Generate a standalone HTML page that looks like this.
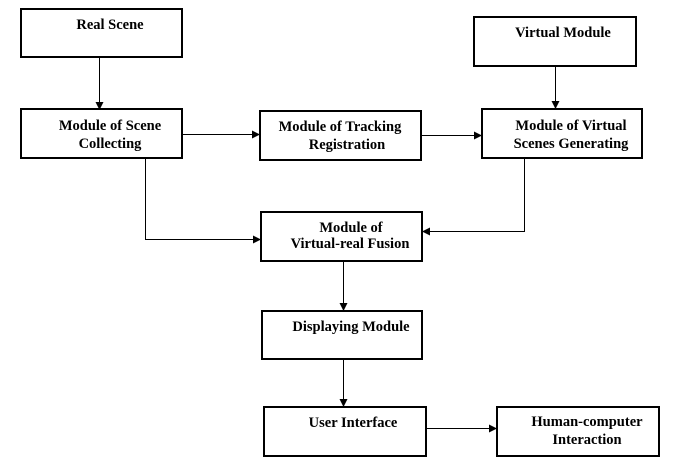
<!DOCTYPE html>
<html><head><style>
html,body{margin:0;padding:0;background:#fff;}
svg{display:block;}
text{font-family:"Liberation Serif",serif;font-weight:bold;font-size:14.5px;fill:#000;}
</style></head><body>
<svg width="677" height="467" viewBox="0 0 677 467">
<defs><marker id="a" markerWidth="8" markerHeight="8" refX="7" refY="4" orient="auto" markerUnits="userSpaceOnUse"><path d="M0,0 L8,4 L0,8 z" fill="#000"/></marker></defs>
<g fill="none" stroke="#000" stroke-width="2">
<rect x="21" y="9" width="161" height="48"/>
<rect x="21" y="109" width="161" height="49"/>
<rect x="260" y="111" width="161" height="49"/>
<rect x="474" y="17" width="162" height="49"/>
<rect x="482" y="109" width="160" height="49"/>
<rect x="261" y="212" width="161" height="49"/>
<rect x="262" y="311" width="160" height="48"/>
<rect x="264" y="407" width="162" height="49"/>
<rect x="497" y="407" width="162" height="49"/>
</g>
<g fill="none" stroke="#000" stroke-width="1" marker-end="url(#a)">
<path d="M99.5 57 V109"/>
<path d="M182 134.5 H259"/>
<path d="M421 135.5 H481"/>
<path d="M555.5 66 V108"/>
<path d="M145.5 158 V239.5 H260"/>
<path d="M524.5 158 V231.5 H423"/>
<path d="M343.5 261 V310"/>
<path d="M343.5 359 V406"/>
<path d="M426 428.5 H496"/>
</g>
<g text-anchor="middle">
<text x="110" y="29">Real Scene</text>
<text x="110" y="130">Module of Scene</text>
<text x="110" y="148">Collecting</text>
<text x="340" y="131">Module of Tracking</text>
<text x="347" y="149">Registration</text>
<text x="563" y="37">Virtual Module</text>
<text x="571" y="130">Module of Virtual</text>
<text x="571" y="148">Scenes Generating</text>
<text x="351" y="232">Module of</text>
<text x="350" y="248">Virtual-real Fusion</text>
<text x="351" y="331">Displaying Module</text>
<text x="353" y="427">User Interface</text>
<text x="587" y="426">Human-computer</text>
<text x="587" y="444">Interaction</text>
</g>
</svg>
</body></html>
